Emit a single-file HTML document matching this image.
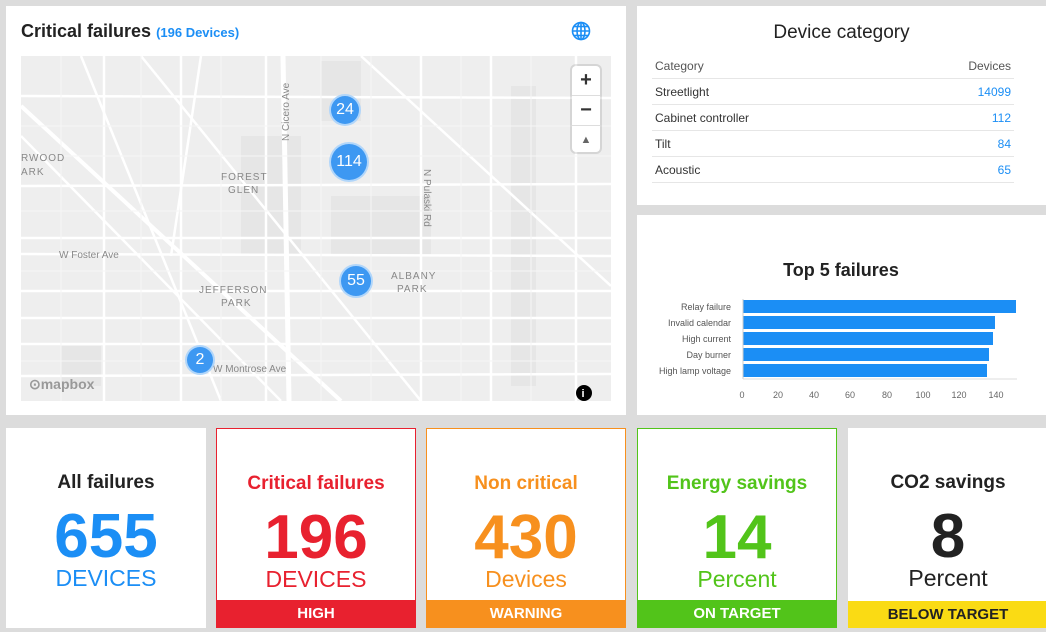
<!DOCTYPE html>
<html><head><style>
body{margin:0;width:1046px;height:632px;background:#dcdcdc;font-family:"Liberation Sans",sans-serif;position:relative;overflow:hidden}
.p{position:absolute;background:#fff}
.card{position:absolute;top:428px;height:200px;background:#fff;text-align:center;box-sizing:border-box}
.card .t{position:absolute;top:44px;width:100%;font-size:19px;font-weight:bold}
.card .n{position:absolute;top:72px;width:100%;font-size:62px;font-weight:bold;line-height:74px}
.card .u{position:absolute;top:137px;width:100%;font-size:23px}
.card .b{position:absolute;bottom:0;left:0;right:0;height:27px;line-height:27px;color:#fff;font-size:15px;font-weight:bold}
table{border-collapse:collapse;font-size:12px;color:#333}
td{height:25px;border-bottom:1px solid #e6e6e6;padding:0 3px}
.bl{color:#1b8ef5;text-align:right}
.cl{position:absolute;border-radius:50%;background:#3d98f2;color:#fff;text-align:center;font-size:16px;border:2px solid rgba(255,255,255,.6)}
</style></head><body>
<div class="p" style="left:6px;top:6px;width:620px;height:409px">
 <div style="position:absolute;left:15px;top:15px;font-size:18px;font-weight:bold;color:#222">Critical failures <span style="color:#1b8ef5;font-size:13px">(196 Devices)</span></div>
 <svg style="position:absolute;left:565px;top:15px" width="20" height="20" viewBox="0 0 20 20" fill="none" stroke="#1b8ef5" stroke-width="1.6"><circle cx="10" cy="10" r="8.5"/><ellipse cx="10" cy="10" rx="4" ry="8.5"/><line x1="1.5" y1="10" x2="18.5" y2="10"/><line x1="3" y1="5.5" x2="17" y2="5.5"/><line x1="3" y1="14.5" x2="17" y2="14.5"/><line x1="10" y1="1.5" x2="10" y2="18.5"/></svg>
 <svg style="position:absolute;left:15px;top:50px" width="590" height="345">
  <rect width="590" height="345" fill="#eeeeee"/>
  <g fill="#e6e6e6"><rect x="300" y="5" width="40" height="60"/><rect x="220" y="80" width="60" height="120"/><rect x="40" y="290" width="40" height="40"/><rect x="310" y="140" width="100" height="60"/><rect x="490" y="30" width="25" height="300"/></g>
  <g stroke="#fff" stroke-width="2.5" fill="none">
   <line x1="0" y1="40" x2="590" y2="42"/><line x1="0" y1="130" x2="590" y2="128"/><line x1="0" y1="182" x2="590" y2="182"/><line x1="0" y1="198" x2="590" y2="200"/><line x1="0" y1="235" x2="590" y2="235"/><line x1="0" y1="288" x2="590" y2="288"/><line x1="0" y1="320" x2="590" y2="318"/><line x1="0" y1="262" x2="590" y2="262"/>
   <line x1="83" y1="0" x2="83" y2="345"/><line x1="160" y1="0" x2="160" y2="345"/><line x1="245" y1="0" x2="245" y2="345"/><line x1="400" y1="0" x2="400" y2="345"/><line x1="470" y1="0" x2="470" y2="345"/><line x1="555" y1="0" x2="555" y2="345"/>
   <line x1="262" y1="0" x2="268" y2="345" stroke-width="5"/><line x1="0" y1="50" x2="320" y2="345" stroke-width="4"/><line x1="0" y1="80" x2="260" y2="345"/><line x1="60" y1="0" x2="200" y2="345"/><line x1="120" y1="0" x2="400" y2="345"/><line x1="340" y1="0" x2="590" y2="230"/><line x1="180" y1="0" x2="150" y2="200"/>
  </g>
  <g stroke="#f6f6f6" stroke-width="1"><line x1="0" y1="70" x2="590" y2="70"/><line x1="0" y1="100" x2="590" y2="100"/><line x1="0" y1="155" x2="590" y2="155"/><line x1="0" y1="215" x2="590" y2="215"/><line x1="0" y1="305" x2="590" y2="305"/><line x1="40" y1="0" x2="40" y2="345"/><line x1="120" y1="0" x2="120" y2="345"/><line x1="200" y1="0" x2="200" y2="345"/><line x1="300" y1="0" x2="300" y2="345"/><line x1="350" y1="0" x2="350" y2="345"/><line x1="440" y1="0" x2="440" y2="345"/><line x1="510" y1="0" x2="510" y2="345"/></g>
  <g fill="#888" font-size="10" font-family="Liberation Sans"><text x="38" y="202">W Foster Ave</text><text x="192" y="316">W Montrose Ave</text><text x="178" y="237" letter-spacing="1">JEFFERSON</text><text x="200" y="250" letter-spacing="1">PARK</text><text x="200" y="124" letter-spacing="1">FOREST</text><text x="207" y="137" letter-spacing="1">GLEN</text><text x="370" y="223" letter-spacing="1">ALBANY</text><text x="376" y="236" letter-spacing="1">PARK</text><text x="0" y="105" letter-spacing="1">RWOOD</text><text x="0" y="119" letter-spacing="1">ARK</text>
   <text transform="translate(268,85) rotate(-90)">N Cicero Ave</text><text transform="translate(403,113) rotate(90)">N Pulaski Rd</text></g>
  <text x="8" y="333" font-size="14" font-weight="bold" fill="#999">⊙mapbox</text>
  <circle cx="563" cy="337" r="8" fill="#000"/><text x="560.5" y="341" fill="#fff" font-size="11" font-weight="bold">i</text>
 </svg>
 <div style="position:absolute;left:566px;top:60px;width:28px;height:86px;background:#fff;border-radius:4px;box-shadow:0 0 0 2px rgba(0,0,0,.1);font-size:20px;font-weight:bold;text-align:center;line-height:29px;color:#333">+<div style="border-top:1px solid #ddd">−</div><div style="border-top:1px solid #ddd;font-size:11px;color:#666">▲</div></div>
 <div class="cl" style="left:323px;top:88px;width:28px;height:28px;line-height:28px">24</div>
 <div class="cl" style="left:323px;top:136px;width:36px;height:36px;line-height:36px">114</div>
 <div class="cl" style="left:333px;top:258px;width:30px;height:30px;line-height:30px">55</div>
 <div class="cl" style="left:179px;top:339px;width:26px;height:26px;line-height:26px">2</div>
</div>
<div class="p" style="left:637px;top:6px;width:409px;height:199px">
 <div style="position:absolute;top:16px;width:409px;text-align:center;font-size:19px;color:#222">Device category</div>
 <table style="position:absolute;left:15px;top:47px;width:362px">
  <tr><td style="color:#555">Category</td><td style="text-align:right;color:#555">Devices</td></tr>
  <tr><td>Streetlight</td><td class="bl">14099</td></tr>
  <tr><td>Cabinet controller</td><td class="bl">112</td></tr>
  <tr><td>Tilt</td><td class="bl">84</td></tr>
  <tr><td>Acoustic</td><td class="bl">65</td></tr>
 </table>
</div>
<div class="p" style="left:637px;top:215px;width:409px;height:200px">
 <svg width="409" height="200" font-family="Liberation Sans">
  <text x="204" y="61" text-anchor="middle" font-size="18" font-weight="bold" fill="#222">Top 5 failures</text>
  <g fill="#1b8ef5"><rect x="106" y="85" width="273" height="13"/><rect x="106" y="101" width="252" height="13"/><rect x="106" y="117" width="250" height="13"/><rect x="106" y="133" width="246" height="13"/><rect x="106" y="149" width="244" height="13"/></g>
  <line x1="106" y1="84" x2="106" y2="164" stroke="#ccc"/><line x1="106" y1="164" x2="380" y2="164" stroke="#ddd"/>
  <g font-size="9" fill="#555" text-anchor="end"><text x="94" y="95">Relay failure</text><text x="94" y="111">Invalid calendar</text><text x="94" y="127">High current</text><text x="94" y="143">Day burner</text><text x="94" y="159">High lamp voltage</text></g>
  <g font-size="9" fill="#666" text-anchor="middle"><text x="105" y="183">0</text><text x="141" y="183">20</text><text x="177" y="183">40</text><text x="213" y="183">60</text><text x="250" y="183">80</text><text x="286" y="183">100</text><text x="322" y="183">120</text><text x="359" y="183">140</text></g>
 </svg>
</div>
<div class="card" style="left:6px;width:200px"><div class="t" style="color:#222">All failures</div><div class="n" style="color:#1b8ef5">655</div><div class="u" style="color:#1b8ef5">DEVICES</div></div>
<div class="card" style="left:216px;width:200px;border:1px solid #e8212f"><div class="t" style="color:#e8212f">Critical failures</div><div class="n" style="color:#e8212f">196</div><div class="u" style="color:#e8212f">DEVICES</div><div class="b" style="background:#e8212f">HIGH</div></div>
<div class="card" style="left:426px;width:200px;border:1px solid #f7901e"><div class="t" style="color:#f7901e">Non critical</div><div class="n" style="color:#f7901e">430</div><div class="u" style="color:#f7901e">Devices</div><div class="b" style="background:#f7901e">WARNING</div></div>
<div class="card" style="left:637px;width:200px;border:1px solid #52c41a"><div class="t" style="color:#52c41a">Energy savings</div><div class="n" style="color:#52c41a">14</div><div class="u" style="color:#52c41a">Percent</div><div class="b" style="background:#52c41a">ON TARGET</div></div>
<div class="card" style="left:848px;width:200px"><div class="t" style="color:#222">CO2 savings</div><div class="n" style="color:#222">8</div><div class="u" style="color:#222">Percent</div><div class="b" style="background:#fadb14;color:#222">BELOW TARGET</div></div>
</body></html>
